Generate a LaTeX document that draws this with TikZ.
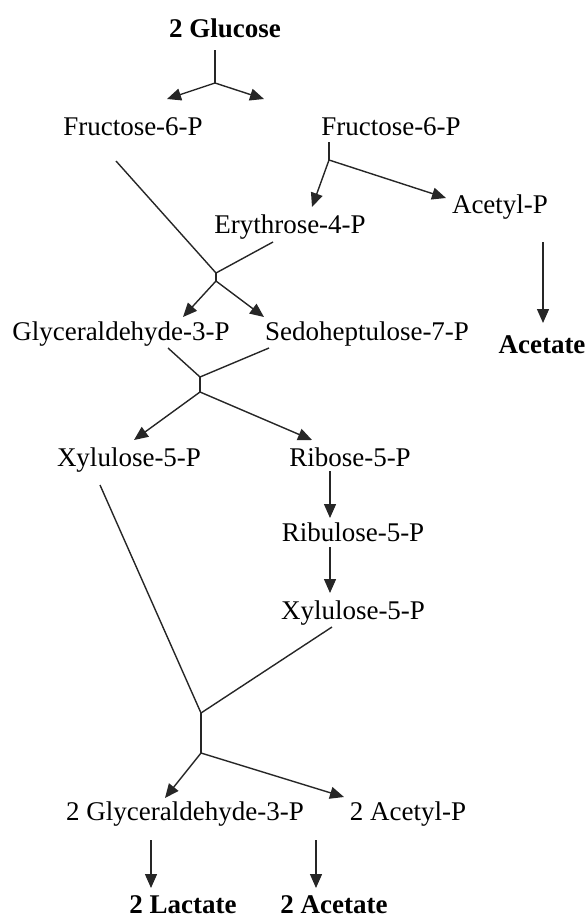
\documentclass[tikz,border=0pt]{standalone}
\usepackage{fontspec}
\setmainfont{Liberation Serif}
\usetikzlibrary{arrows.meta}
\begin{document}
\begin{tikzpicture}[x=1pt,y=-1pt,
  lbl/.style={anchor=base,inner sep=0pt,font=\fontsize{27}{30}\selectfont},
  blbl/.style={lbl,font=\fontsize{27}{30}\selectfont\bfseries},
  ln/.style={line width=1.4pt,draw=black!85},
  arr/.style={ln,-{Triangle[length=14pt,width=12pt]}}]
\useasboundingbox (0,0) rectangle (588,921);
% nodes
\node[blbl] (glc) at (225,37) {2 Glucose};
\node[lbl] (f6pl) at (133,135) {Fructose-6-P};
\node[lbl] (f6pr) at (391,135) {Fructose-6-P};
\node[lbl] (acp) at (500,213) {Acetyl-P};
\node[lbl] (e4p) at (290,233) {Erythrose-4-P};
\node[lbl] (g3p) at (121,340) {Glyceraldehyde-3-P};
\node[lbl] (s7p) at (367,340) {Sedoheptulose-7-P};
\node[blbl] (ac) at (542,353) {Acetate};
\node[lbl] (x5pa) at (129,466) {Xylulose-5-P};
\node[lbl] (r5p) at (350,466) {Ribose-5-P};
\node[lbl] (ru5p) at (353,541) {Ribulose-5-P};
\node[lbl] (x5pb) at (353,619) {Xylulose-5-P};
\node[lbl] (g3p2) at (185,820) {2 Glyceraldehyde-3-P};
\node[lbl] (acp2) at (408,820) {2 Acetyl-P};
\node[blbl] (lac) at (183,913) {2 Lactate};
\node[blbl] (ac2) at (334,913) {2 Acetate};
% coordinates
\coordinate (g0) at (215,50);
\coordinate (g1) at (215,83);
\coordinate (ga) at (167,99);
\coordinate (gb) at (264,99);
\coordinate (fl0) at (116,161);
\coordinate (j1) at (216,273);
\coordinate (j1b) at (216,281);
\coordinate (fr0) at (329,142);
\coordinate (fr1) at (329,160);
\coordinate (ea) at (312,207);
\coordinate (aa) at (446,198);
\coordinate (e0) at (273,242);
\coordinate (g3a) at (183,317);
\coordinate (s7a) at (264,317);
\coordinate (ac0) at (543,242);
\coordinate (ac1) at (543,323);
\coordinate (g30) at (168,348);
\coordinate (s70) at (269,348);
\coordinate (j2) at (200,377);
\coordinate (j2b) at (200,392);
\coordinate (xa) at (134,440);
\coordinate (ra) at (312,440);
\coordinate (r0) at (330,471);
\coordinate (r1) at (330,518);
\coordinate (u0) at (330,547);
\coordinate (u1) at (330,593);
\coordinate (x0) at (100,485);
\coordinate (xb0) at (332,627);
\coordinate (j3) at (201,713);
\coordinate (j3b) at (201,753);
\coordinate (gg) at (165,798);
\coordinate (aa2) at (344,797);
\coordinate (l0) at (151,840);
\coordinate (l1) at (151,888);
\coordinate (a0) at (316,840);
\coordinate (a1) at (316,888);
% connectors
\draw[ln] (g0) -- (g1);
\draw[arr] (g1) -- (ga);
\draw[arr] (g1) -- (gb);
\draw[ln] (fl0) -- (j1);
\draw[ln] (fr0) -- (fr1);
\draw[arr] (fr1) -- (ea);
\draw[arr] (fr1) -- (aa);
\draw[ln] (e0) -- (j1);
\draw[ln] (j1) -- (j1b);
\draw[arr] (j1b) -- (g3a);
\draw[arr] (j1b) -- (s7a);
\draw[arr] (ac0) -- (ac1);
\draw[ln] (g30) -- (j2);
\draw[ln] (s70) -- (j2);
\draw[ln] (j2) -- (j2b);
\draw[arr] (j2b) -- (xa);
\draw[arr] (j2b) -- (ra);
\draw[arr] (r0) -- (r1);
\draw[arr] (u0) -- (u1);
\draw[ln] (x0) -- (j3);
\draw[ln] (xb0) -- (j3);
\draw[ln] (j3) -- (j3b);
\draw[arr] (j3b) -- (gg);
\draw[arr] (j3b) -- (aa2);
\draw[arr] (l0) -- (l1);
\draw[arr] (a0) -- (a1);
\end{tikzpicture}
\end{document}
